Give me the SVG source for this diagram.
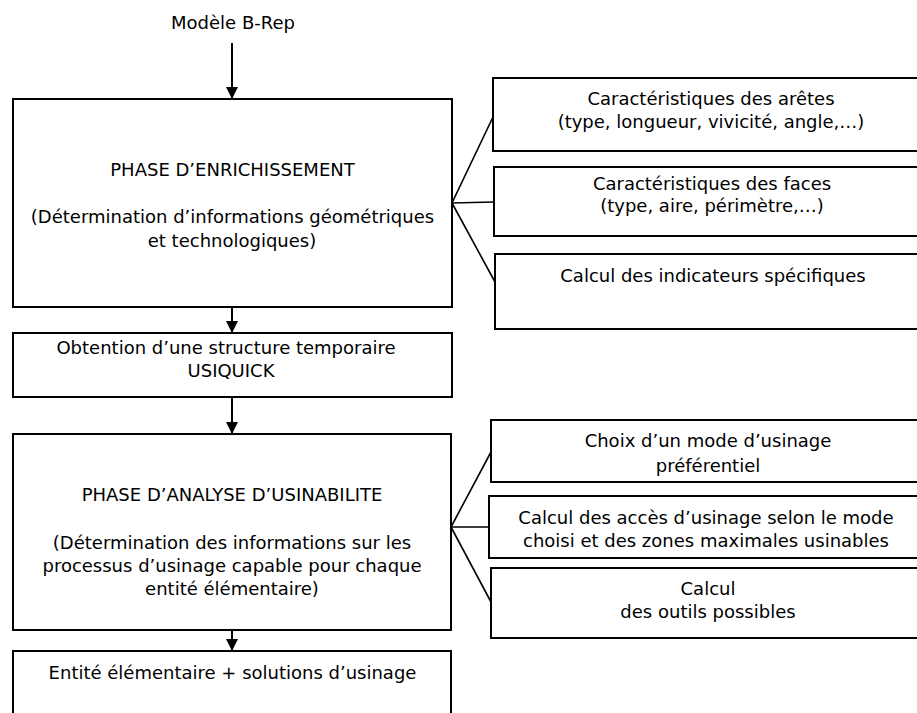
<svg xmlns="http://www.w3.org/2000/svg" width="917" height="713" viewBox="0 0 917 713">
<style>
.box{fill:#fff;stroke:#000;stroke-width:2}
.t{font-family:"DejaVu Sans","Verdana",sans-serif;font-size:18px;fill:#000;text-anchor:middle}
.c{stroke:#000;stroke-width:1.6;fill:none}
.v{stroke:#000;stroke-width:2;fill:none}
</style>
<defs>
<marker id="ah" viewBox="0 0 12 12" refX="12" refY="6" markerWidth="12" markerHeight="12" markerUnits="userSpaceOnUse" orient="auto">
<path d="M0,0 L12,6 L0,12 Z" fill="#000"/>
</marker>
</defs>
<rect width="917" height="713" fill="#fff"/>
<text class="t" x="233" y="29">Modèle B-Rep</text>
<g id="connectors">
<line class="v" x1="232" y1="43" x2="232" y2="99" marker-end="url(#ah)"/>
<line class="v" x1="232" y1="307" x2="232" y2="333" marker-end="url(#ah)"/>
<line class="v" x1="232" y1="397" x2="232" y2="434" marker-end="url(#ah)"/>
<line class="v" x1="232" y1="631" x2="232" y2="651" marker-end="url(#ah)"/>
<polyline class="c" points="493,117 452,203 494,202"/>
<line class="c" x1="452" y1="203" x2="495" y2="282"/>
<polyline class="c" points="491,452 451,527 489,527"/>
<line class="c" x1="451" y1="527" x2="491" y2="602"/>
</g>
<g id="enrichissement">
<rect class="box" x="13" y="99" width="439" height="208"/>
<text class="t" x="232.5" y="176">PHASE D’ENRICHISSEMENT</text>
<text class="t" x="232.5" y="223">(Détermination d’informations géométriques</text>
<text class="t" x="232" y="246.5">et technologiques)</text>
</g>
<g id="aretes">
<rect class="box" x="493" y="78" width="440" height="73"/>
<text class="t" x="711" y="105">Caractéristiques des arêtes</text>
<text class="t" x="711" y="127.5">(type, longueur, vivicité, angle,…)</text>
</g>
<g id="faces">
<rect class="box" x="494" y="167" width="440" height="69"/>
<text class="t" x="712" y="189.5">Caractéristiques des faces</text>
<text class="t" x="712" y="212">(type, aire, périmètre,…)</text>
</g>
<g id="indicateurs">
<rect class="box" x="495" y="254" width="440" height="75"/>
<text class="t" x="713" y="282">Calcul des indicateurs spécifiques</text>
</g>
<g id="structure">
<rect class="box" x="13" y="333" width="439" height="64"/>
<text class="t" x="226" y="353.5">Obtention d’une structure temporaire</text>
<text class="t" x="231" y="377">USIQUICK</text>
</g>
<g id="analyse">
<rect class="box" x="13" y="434" width="438" height="196"/>
<text class="t" x="232" y="501">PHASE D’ANALYSE D’USINABILITE</text>
<text class="t" x="232" y="548.5">(Détermination des informations sur les</text>
<text class="t" x="232" y="572">processus d’usinage capable pour chaque</text>
<text class="t" x="232" y="595">entité élémentaire)</text>
</g>
<g id="mode">
<rect class="box" x="491" y="420" width="440" height="62"/>
<text class="t" x="708" y="447">Choix d’un mode d’usinage</text>
<text class="t" x="708" y="472">préférentiel</text>
</g>
<g id="acces">
<rect class="box" x="489" y="496" width="440" height="62"/>
<text class="t" x="706" y="523.5">Calcul des accès d’usinage selon le mode</text>
<text class="t" x="706" y="547">choisi et des zones maximales usinables</text>
</g>
<g id="outils">
<rect class="box" x="491" y="568" width="440" height="70"/>
<text class="t" x="708" y="595">Calcul</text>
<text class="t" x="708" y="617.5">des outils possibles</text>
</g>
<g id="entite">
<rect class="box" x="13" y="651" width="438" height="80"/>
<text class="t" x="232.5" y="678.5">Entité élémentaire + solutions d’usinage</text>
</g>
</svg>
